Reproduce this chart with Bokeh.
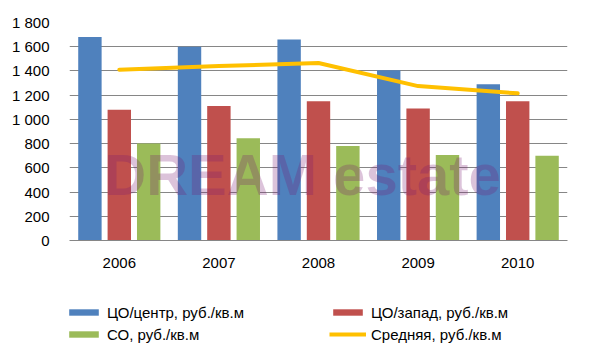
from bokeh.plotting import figure
from bokeh.layouts import column
from bokeh.models import (ColumnDataSource, FactorRange, Range1d, FixedTicker, Legend,
                          LegendItem, Label)
from bokeh.transform import dodge
from bokeh.embed import file_html
from bokeh.resources import INLINE

years = ["2006", "2007", "2008", "2009", "2010"]
center_vals = [1680, 1600, 1660, 1405, 1290]
west_vals = [1080, 1110, 1150, 1090, 1150]
so_vals = [800, 845, 780, 705, 700]
avg_vals = [1410, 1440, 1465, 1275, 1215]
y_ticks = [0, 200, 400, 600, 800, 1000, 1200, 1400, 1600, 1800]
y_tick_labels = ["0", "200", "400", "600", "800", "1 000", "1 200", "1 400", "1 600", "1 800"]
series_names = ["ЦО/центр, руб./кв.м", "ЦО/запад, руб./кв.м", "СО, руб./кв.м", "Средняя, руб./кв.м"]
colors = ["#4F81BD", "#C0504D", "#9BBB59", "#FFC000"]

FONT = "Liberation Sans"

src = ColumnDataSource(data=dict(year=years, center=center_vals, west=west_vals,
                                 so=so_vals, avg=avg_vals))

p = figure(width=591, height=290, x_range=FactorRange(factors=years, range_padding=0),
           y_range=Range1d(0, 1800), output_backend="svg", toolbar_location=None,
           min_border_left=69, min_border_right=24, min_border_top=22, min_border_bottom=50)
p.outline_line_color = None
p.background_fill_color = "white"
p.border_fill_color = "white"
p.frame_align = False

bw = 0.235
p.vbar(x=dodge("year", -0.295, range=p.x_range), top="center", width=bw, source=src,
       fill_color=colors[0], line_color=None)
p.vbar(x=dodge("year", 0.0, range=p.x_range), top="west", width=bw, source=src,
       fill_color=colors[1], line_color=None)
p.vbar(x=dodge("year", 0.295, range=p.x_range), top="so", width=bw, source=src,
       fill_color=colors[2], line_color=None)
p.line(x="year", y="avg", source=src, line_color=colors[3], line_width=4,
       line_join="round", line_cap="round")

wm = Label(x=2.34, y=541, x_units="data", y_units="data", text="DREAM estate",
           text_font=FONT, text_font_style="bold", text_font_size="58px",
           text_color="#781871", text_alpha=0.26, text_align="center",
           text_baseline="middle")
p.add_layout(wm)

p.xgrid.grid_line_color = None
p.ygrid.grid_line_color = "#868686"
p.ygrid.grid_line_width = 1
p.yaxis.ticker = FixedTicker(ticks=y_ticks)
p.yaxis.major_label_overrides = {t: l for t, l in zip(y_ticks, y_tick_labels)}
p.yaxis.axis_line_color = None
p.yaxis.major_tick_line_color = None
p.yaxis.minor_tick_line_color = None
p.yaxis.major_label_standoff = 14
p.yaxis.major_label_text_font = FONT
p.yaxis.major_label_text_font_size = "15px"
p.yaxis.major_label_text_color = "#000000"

p.xaxis.axis_line_color = "#868686"
p.xaxis.major_tick_line_color = None
p.xaxis.minor_tick_line_color = None
p.xaxis.major_label_standoff = 11
p.xaxis.major_label_text_font = FONT
p.xaxis.major_label_text_font_size = "15px"
p.xaxis.major_label_text_color = "#000000"

# legend strip below the chart (swatch renderers are zero-size placeholders)
lp = figure(width=591, height=64, x_range=Range1d(0, 1), y_range=Range1d(0, 1),
            output_backend="svg", toolbar_location=None,
            x_axis_location=None, y_axis_location=None,
            min_border_left=0, min_border_right=0, min_border_top=0, min_border_bottom=0)
lp.grid.visible = False
lp.outline_line_color = None
lp.border_fill_color = "white"
lp.background_fill_color = "white"
lp.frame_align = False

g1 = lp.vbar(x=[0], top=[0], width=0, fill_color=colors[0], line_color=None)
g2 = lp.vbar(x=[0], top=[0], width=0, fill_color=colors[1], line_color=None)
g3 = lp.vbar(x=[0], top=[0], width=0, fill_color=colors[2], line_color=None)
g4 = lp.line(x=[0], y=[0], line_color=colors[3], line_width=4)

def make_legend(items, vx):
    lg = Legend(items=items, location=(vx, 10), orientation="vertical",
                margin=0, padding=0, border_line_color=None, background_fill_alpha=0,
                glyph_width=37, glyph_height=8, label_standoff=5, label_height=20,
                spacing=2, label_text_font=FONT, label_text_font_size="15px",
                label_text_color="#000000")
    lp.add_layout(lg, "center")

make_legend([LegendItem(label=series_names[0], renderers=[g1]),
             LegendItem(label=series_names[2], renderers=[g3])], 65)
make_legend([LegendItem(label=series_names[1], renderers=[g2]),
             LegendItem(label=series_names[3], renderers=[g4])], 329)

open("out.html", "w").write(file_html(column(p, lp, spacing=0), INLINE))
